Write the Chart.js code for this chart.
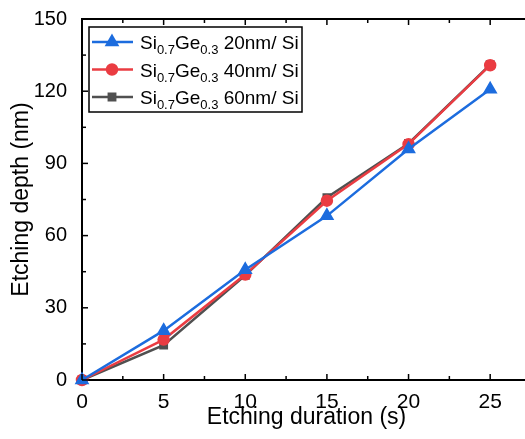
<!DOCTYPE html>
<html>
<head>
<meta charset="utf-8">
<script src="https://cdn.jsdelivr.net/npm/chart.js@4.4.0/dist/chart.umd.min.js"></script>
<style>
    html, body { margin: 0; padding: 0; background: #fff; overflow: hidden; }
    #wrap { width: 525px; height: 439px; overflow: hidden; position: relative; }
</style>
</head>
<body>
<div id="wrap"><canvas id="myChart" width="540" height="439"></canvas></div>
<script>
// Etching duration (s)
const durations = [0, 5, 10, 15, 20, 25];
// Etching depth (nm) for each SiGe layer thickness
const depth20nm = [0, 20.5, 45.8, 68.2, 96.0, 120.8];
const depth40nm = [0, 16.8, 43.8, 74.5, 98.0, 130.8];
const depth60nm = [0, 14.5, 43.5, 75.8, 98.3, 131.0];
const thicknessLabels = ["20nm", "40nm", "60nm"];

// Axis ticks
const xTicks = [0, 5, 10, 15, 20, 25];
const yTicks = [0, 30, 60, 90, 120, 150];

const FONT = "Arial, 'Liberation Sans', sans-serif";

function toPoints(values) {
    return durations.map((d, i) => ({ x: d, y: values[i] }));
}

// legend box with subscripts (Si0.7Ge0.3)
const legendBox = {
    id: 'legendBox',
    afterDraw(chart) {
        const ctx = chart.ctx;
        const x0 = 89, y0 = 27, w = 213, h = 85;
        ctx.save();
        ctx.fillStyle = '#fff';
        ctx.fillRect(x0, y0, w, h);
        ctx.strokeStyle = '#000';
        ctx.lineWidth = 1.5;
        ctx.strokeRect(x0, y0, w, h);

        chart.data.datasets.forEach((ds, i) => {
            const cy = y0 + 15 + i * 27.5;
            ctx.strokeStyle = ds.borderColor;
            ctx.lineWidth = 2.5;
            ctx.beginPath();
            ctx.moveTo(x0 + 3, cy);
            ctx.lineTo(x0 + 44, cy);
            ctx.stroke();
            ctx.fillStyle = ds.backgroundColor;
            ctx.strokeStyle = ds.borderColor;
            Chart.helpers.drawPoint(ctx, {
                pointStyle: ds.pointStyle, radius: ds.pointRadius, rotation: 0, borderWidth: 1
            }, x0 + 23, cy);

            // label text
            let tx = x0 + 51;
            const by = cy + 7;
            const parts = [
                ["Si", 19, 0], ["0.7", 13, 5], ["Ge", 19, 0], ["0.3", 13, 5],
                [" " + thicknessLabels[i] + "/ Si", 19, 0]
            ];
            ctx.fillStyle = '#000';
            ctx.textBaseline = 'alphabetic';
            ctx.textAlign = 'left';
            parts.forEach(([t, size, dy]) => {
                ctx.font = size + "px " + FONT;
                ctx.fillText(t, tx, by + dy);
                tx += ctx.measureText(t).width;
            });
        });
        ctx.restore();
    }
};

// inward ticks and top frame line
const frameTicks = {
    id: 'frameTicks',
    afterDraw(chart) {
        const ctx = chart.ctx;
        const area = chart.chartArea;
        const xs = chart.scales.x, ys = chart.scales.y;
        ctx.save();
        ctx.strokeStyle = '#000';
        ctx.lineWidth = 2;
        ctx.beginPath();
        ctx.moveTo(area.left - 1, area.top);
        ctx.lineTo(area.right + 20, area.top);
        ctx.stroke();

        ctx.lineWidth = 1.5;
        for (let v = 0; v <= 27.5; v += 2.5) {
            const px = xs.getPixelForValue(v);
            const len = (v % 5 === 0) ? 6 : 4;
            ctx.beginPath();
            ctx.moveTo(px, area.bottom);
            ctx.lineTo(px, area.bottom - len);
            ctx.moveTo(px, area.top);
            ctx.lineTo(px, area.top + len);
            ctx.stroke();
        }
        for (let v = 0; v <= 150; v += 15) {
            const py = ys.getPixelForValue(v);
            const len = (v % 30 === 0) ? 6 : 4;
            ctx.beginPath();
            ctx.moveTo(area.left, py);
            ctx.lineTo(area.left + len, py);
            ctx.stroke();
        }
        ctx.restore();
    }
};

const ctx = document.getElementById("myChart").getContext("2d");
const chart = new Chart(ctx, {
    type: 'line',
    data: {
        datasets: [
            {
                label: 'Si0.7Ge0.3 20nm/ Si',
                data: toPoints(depth20nm),
                borderColor: 'rgb(28, 108, 222)',
                backgroundColor: 'rgb(28, 108, 222)',
                pointStyle: 'triangle',
                pointRadius: 6,
                borderWidth: 2.5
            },
            {
                label: 'Si0.7Ge0.3 40nm/ Si',
                data: toPoints(depth40nm),
                borderColor: 'rgb(234, 60, 66)',
                backgroundColor: 'rgb(234, 60, 66)',
                pointStyle: 'circle',
                pointRadius: 5,
                borderWidth: 2.5
            },
            {
                label: 'Si0.7Ge0.3 60nm/ Si',
                data: toPoints(depth60nm),
                borderColor: 'rgb(80, 80, 80)',
                backgroundColor: 'rgb(80, 80, 80)',
                pointStyle: 'rect',
                pointRadius: 4.5,
                borderWidth: 2.5
            }
        ]
    },
    options: {
        responsive: false,
        animation: false,
        clip: false,
        layout: { padding: { left: 0, right: 9, top: 19, bottom: 0 } },
        plugins: {
            legend: { display: false },
            tooltip: { enabled: false }
        },
        scales: {
            x: {
                type: 'linear',
                min: 0,
                max: 27.5,
                afterFit: (scale) => { scale.height = 59; },
                afterBuildTicks: (scale) => { scale.ticks = xTicks.map(v => ({ value: v })); },
                grid: { display: false },
                border: { display: true, color: '#000', width: 2 },
                ticks: { color: '#000', font: { family: FONT, size: 21 }, padding: 2, maxRotation: 0 },
                title: {
                    display: true,
                    text: 'Etching duration (s)',
                    color: '#000',
                    font: { family: FONT, size: 23 },
                    padding: { top: 0, bottom: 8 }
                }
            },
            y: {
                min: 0,
                max: 150,
                afterFit: (scale) => { scale.width = 82; },
                afterBuildTicks: (scale) => { scale.ticks = yTicks.map(v => ({ value: v })); },
                grid: { display: false },
                border: { display: true, color: '#000', width: 2 },
                ticks: { color: '#000', font: { family: FONT, size: 20 }, padding: 7 },
                title: {
                    display: true,
                    text: 'Etching depth (nm)',
                    color: '#000',
                    font: { family: FONT, size: 23 },
                    padding: { top: 8, bottom: 0 }
                }
            }
        }
    },
    plugins: [frameTicks, legendBox]
});
</script>
</body>
</html>
